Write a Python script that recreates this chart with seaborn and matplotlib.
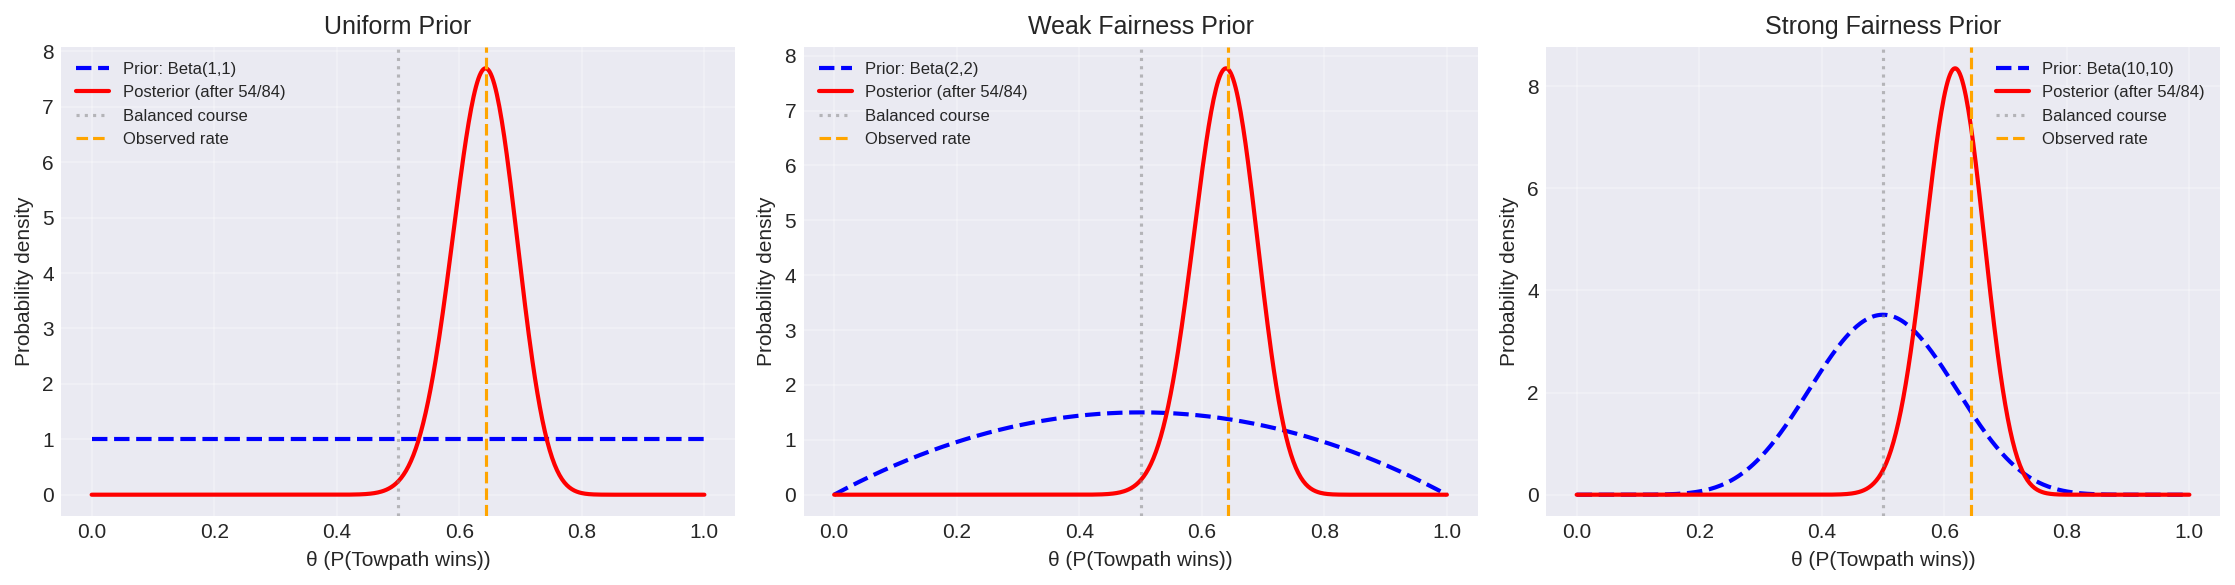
import math
import matplotlib
matplotlib.use('Agg')
import matplotlib.pyplot as plt
import seaborn as sns
import numpy as np

# --- DATA ---
TITLES = ["Uniform Prior", "Weak Fairness Prior", "Strong Fairness Prior"]
PRIOR_A = [1, 2, 10]
PRIOR_B = [1, 2, 10]
WINS = 54
GAMES = 84
BALANCED = 0.5
LEGEND_LOC = ["upper left", "upper left", "upper right"]
YTICKS = [[0, 1, 2, 3, 4, 5, 6, 7, 8], [0, 1, 2, 3, 4, 5, 6, 7, 8], [0, 2, 4, 6, 8]]


def beta_pdf(x, a, b):
    log_norm = math.lgamma(a + b) - math.lgamma(a) - math.lgamma(b)
    with np.errstate(divide='ignore', invalid='ignore'):
        left = (a - 1) * np.log(x) if a != 1 else np.zeros_like(x)
        right = (b - 1) * np.log(1 - x) if b != 1 else np.zeros_like(x)
        y = np.exp(log_norm + left + right)
    return np.nan_to_num(y, nan=0.0, posinf=0.0)


plt.style.use('seaborn-v0_8-darkgrid')
plt.rcParams['font.family'] = ['Liberation Sans', 'DejaVu Sans']

theta = np.linspace(0, 1, 500)
observed = WINS / GAMES

fig, axes = plt.subplots(1, 3, figsize=(14.9, 3.9), dpi=150)
fig.subplots_adjust(left=0.0273, right=0.9933, top=0.9197, bottom=0.1179, wspace=0.1016)

for i, ax in enumerate(axes):
    a, b = PRIOR_A[i], PRIOR_B[i]
    prior = beta_pdf(theta, a, b)
    post = beta_pdf(theta, a + WINS, b + GAMES - WINS)

    sns.lineplot(x=theta, y=prior, ax=ax, color='blue', linestyle='--', linewidth=2,
                 label=f"Prior: Beta({a},{b})")
    sns.lineplot(x=theta, y=post, ax=ax, color='red', linewidth=2,
                 label=f"Posterior (after {WINS}/{GAMES})")
    ax.axvline(BALANCED, color='gray', linestyle=':', alpha=0.5, linewidth=1.5, label="Balanced course")
    ax.axvline(observed, color='orange', linestyle='--', linewidth=1.5, label="Observed rate")

    ax.set_title(TITLES[i], fontsize=12)
    ax.set_xlabel("θ (P(Towpath wins))", fontsize=10)
    ax.set_ylabel("Probability density", fontsize=10)
    ax.set_yticks(YTICKS[i])
    ax.tick_params(labelsize=10)
    ax.grid(True, alpha=0.3)
    ax.legend(loc=LEGEND_LOC[i], fontsize=8, frameon=False)

plt.savefig("out.png", dpi=150)
plt.close()
